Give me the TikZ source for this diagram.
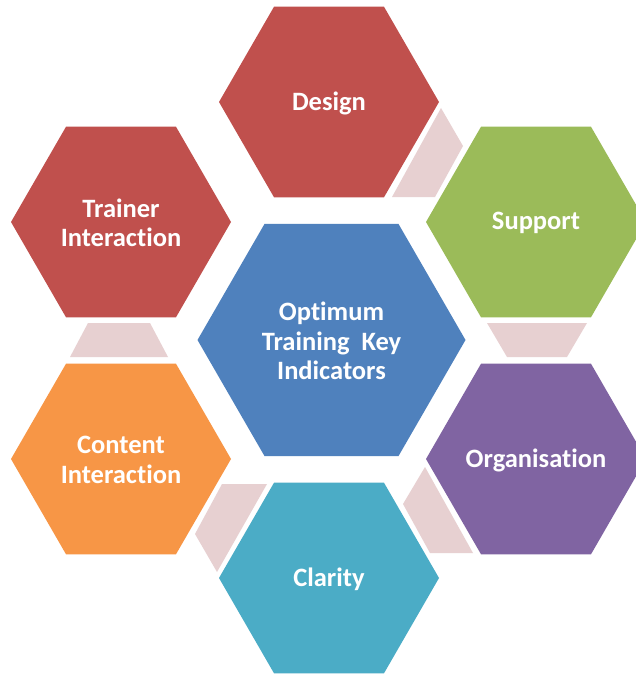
\documentclass[tikz,border=0pt]{standalone}
\usepackage{fontspec}
\setmainfont[Ligatures=NoCommon]{Carlito}
\usetikzlibrary{shapes.geometric}
\definecolor{hred}{RGB}{192,80,77}
\definecolor{hgreen}{RGB}{155,187,89}
\definecolor{hpurple}{RGB}{128,100,162}
\definecolor{hteal}{RGB}{75,172,198}
\definecolor{horange}{RGB}{247,150,70}
\definecolor{hblue}{RGB}{79,129,189}
\definecolor{hpink}{RGB}{231,208,209}
\tikzset{
  hexnode/.style={regular polygon, regular polygon sides=6, inner sep=0pt, outer sep=0pt,
    minimum size=220pt, text=white, align=center,
    font=\fontsize{26.5}{29.5}\selectfont\bfseries},
  gapfill/.style={fill=hpink, draw=none}
}
\begin{document}
\begin{tikzpicture}[x=1pt, y=-1pt]
\useasboundingbox (0,0) rectangle (636,674);
\fill[white] (0,0) rectangle (636,674);
\begin{scope}
\clip (0,0) rectangle (636,674);
% gap fillers
\fill[gapfill] (441,108) -- (463,146) -- (435,197) -- (392,197) -- cycle;
\fill[gapfill] (487,323) -- (587,323) -- (567,357) -- (507,357) -- cycle;
\fill[gapfill] (425,467) -- (403,504) -- (430,553) -- (473,553) -- cycle;
\fill[gapfill] (222,484) -- (267,484) -- (217,572) -- (195,534) -- cycle;
\fill[gapfill] (88,323) -- (150,323) -- (168,357) -- (70,357) -- cycle;
% hexagons
\node[hexnode, fill=hblue, minimum size=268pt] (center) at (331.5,340) {};
\node[text=white, align=center, font=\fontsize{26.5}{29.5}\selectfont\bfseries, inner sep=0pt] (centertext) at (331.5,341) {Optimum\\Training\ \ Key\\Indicators};
\node[hexnode, fill=hred] (design) at (329,102) {};
\node[hexnode, fill=hgreen] (support) at (536,222) {};
\node[hexnode, fill=hpurple] (organisation) at (536,459) {};
\node[hexnode, fill=hteal] (clarity) at (329,578) {};
\node[hexnode, fill=horange] (content) at (121,459) {};
\node[hexnode, fill=hred] (trainer) at (121,222) {};
\tikzset{hextext/.style={text=white, align=center, font=\fontsize{26.5}{29.5}\selectfont\bfseries, inner sep=0pt}}
\node[hextext] (designtext) at (329,103) {Design};
\node[hextext] (supporttext) at (536,223) {Support};
\node[hextext] (organisationtext) at (536,460) {Organisation};
\node[hextext] (claritytext) at (329,579) {Clarity};
\node[hextext] (contenttext) at (121,460) {Content\\Interaction};
\node[hextext] (trainertext) at (121,223) {Trainer\\Interaction};
\end{scope}
\end{tikzpicture}
\end{document}
